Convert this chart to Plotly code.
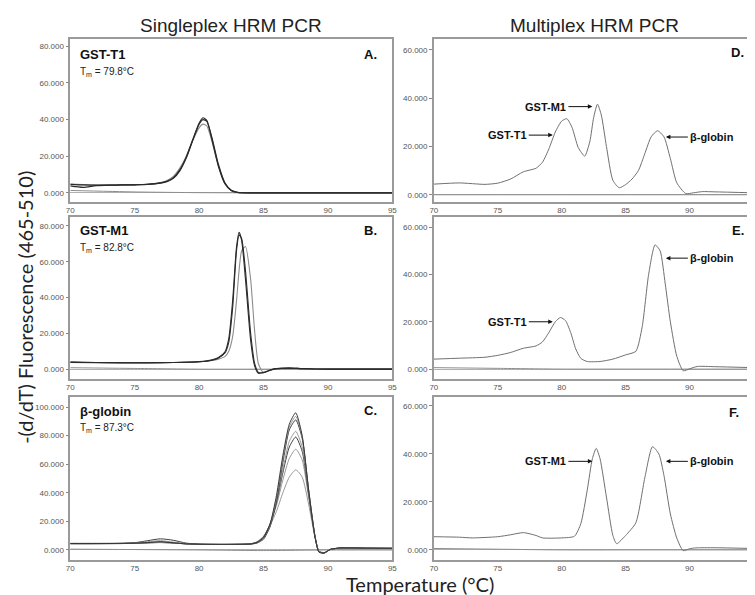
import plotly.graph_objects as go

# The page body adds an 8 px margin; the figure is sized to fill the rest of the window.
OFF = 8
W, H = 755 - OFF, 595 - OFF

# ---------------- data ----------------
x_ticks = [70, 75, 80, 85, 90, 95]
y_ticks_80 = [0, 20000, 40000, 60000, 80000]
y_ticks_80_text = ["0.000", "20.000", "40.000", "60.000", "80.000"]
y_ticks_100 = [0, 20000, 40000, 60000, 80000, 100000]
y_ticks_100_text = ["0.000", "20.000", "40.000", "60.000", "80.000", "100.000"]
y_ticks_60 = [0, 20000, 40000, 60000]
y_ticks_60_text = ["0.000", "20.000", "40.000", "60.000"]

t_ntc = [70, 75, 80, 85, 90, 95]

# Panel A: GST-T1 singleplex
tA = [70, 71, 72, 73, 74, 75, 76, 77, 77.5, 78, 78.5, 79, 79.5, 80, 80.3, 80.6, 81, 81.5, 82, 82.5, 83, 84, 86, 88, 90, 92, 95]
a1 = [4600, 4300, 4200, 4200, 4300, 4400, 4700, 5400, 6300, 8200, 12500, 19500, 29000, 38000, 41000, 39500, 29000, 14500, 5000, 1200, 200, 0, 0, 0, 0, 0, 0]
a2 = [3800, 3000, 3900, 4200, 4300, 4400, 4600, 5300, 6100, 7900, 12000, 19000, 28500, 37500, 40000, 39000, 30000, 15500, 5500, 1400, 300, 0, 0, 0, 0, 0, 0]
a3 = [4800, 4500, 4300, 4300, 4300, 4400, 4700, 5600, 6800, 9000, 13500, 20000, 28500, 35500, 37500, 36500, 28000, 14500, 5200, 1300, 200, 0, 0, 0, 0, 0, 0]
ntcA = [1300, 500, 100, 0, 0, 0]

# Panel B: GST-M1 singleplex
tB = [70, 72, 74, 76, 78, 80, 81, 81.5, 82, 82.3, 82.6, 82.9, 83.1, 83.3, 83.6, 84, 84.3, 84.6, 85, 85.5, 86, 87, 88, 90, 95]
b1 = [3900, 3700, 3600, 3600, 3700, 4200, 5200, 6500, 9500, 17000, 38000, 68000, 76500, 72000, 50000, 16000, 2000, -2300, -1800, -500, 300, 600, 300, 0, 0]
b2 = [3800, 3600, 3500, 3500, 3700, 4100, 5000, 6200, 9000, 15000, 34000, 66000, 75000, 73000, 55000, 20000, 3500, -1800, -2000, -600, 300, 600, 300, 0, 0]
b3 = [3900, 3700, 3600, 3600, 3700, 4100, 4800, 5600, 7000, 10000, 18000, 38000, 55000, 66000, 68500, 50000, 22000, 3000, -2000, -800, 200, 600, 300, 0, 0]
ntcB = [800, 400, 0, 0, 0, 0]

# Panel C: beta-globin singleplex
tC = [70, 72, 74, 75, 76, 77, 78, 79, 80, 82, 84, 84.5, 85, 85.5, 86, 86.5, 87, 87.5, 88, 88.5, 89, 89.3, 89.7, 90.2, 91, 93, 95]
c1 = [4500, 4500, 4600, 4800, 5200, 5800, 5000, 4300, 4000, 3900, 4200, 5200, 8500, 18000, 38000, 66000, 88000, 96000, 80000, 42000, 9000, -1500, -2200, 500, 1500, 1300, 1200]
c2 = [4300, 4400, 4600, 5000, 5800, 6500, 5500, 4400, 4000, 3900, 4200, 5000, 8000, 17000, 36000, 64000, 86000, 93500, 79000, 42000, 9500, -1300, -2200, 400, 1500, 1300, 1200]
c3 = [4600, 4600, 4700, 5100, 6500, 7800, 6800, 4800, 4100, 3900, 4100, 4900, 7500, 16000, 34000, 61000, 84000, 91000, 78000, 42000, 9500, -1200, -2100, 400, 1400, 1300, 1200]
c4 = [4500, 4500, 4600, 4800, 5000, 5200, 4800, 4300, 4000, 3900, 4200, 5300, 8500, 17000, 33000, 56000, 76000, 83000, 72000, 40000, 9000, -1200, -2100, 400, 1400, 1200, 1100]
c5 = [4400, 4400, 4500, 4700, 5100, 5600, 5000, 4300, 4000, 3900, 4300, 5500, 9000, 18000, 33000, 54000, 72000, 79000, 69000, 39000, 9000, -1000, -2000, 400, 1400, 1200, 1100]
c6 = [4500, 4500, 4500, 4700, 4900, 5200, 4800, 4300, 4000, 3900, 4300, 5600, 9500, 18000, 31000, 49000, 64000, 70500, 63000, 37000, 9000, -900, -1900, 400, 1300, 1200, 1100]
c7 = [4600, 4600, 4600, 4800, 5000, 5300, 4900, 4300, 4000, 3900, 4400, 5800, 9500, 17000, 27000, 40000, 51000, 56000, 51000, 32000, 8500, -800, -1800, 400, 1300, 1200, 1100]
ntcC = [600, 300, 0, -400, 0, 0]

# Panel D: multiplex GST-T1 + GST-M1 + beta-globin
tD = [70, 72, 74, 75, 76, 77, 78, 78.5, 79, 79.5, 80, 80.4, 80.8, 81.3, 81.8, 82.2, 82.5, 82.8, 83.1, 83.5, 84, 84.5, 85, 85.5, 86, 86.5, 87, 87.5, 88, 88.5, 89, 89.7, 90.3, 91, 92, 95]
d1 = [4400, 4900, 4300, 4800, 6500, 9500, 11000, 13500, 19000, 26000, 30500, 31500, 28000, 19500, 16000, 22000, 32000, 37500, 33000, 20000, 6000, 2900, 4200, 6500, 10000, 17000, 24000, 26500, 24000, 15000, 5000, 500, 800, 1300, 1200, 800]
ntcD = [0, 0, 0, 0, 0, 0]

# Panel E: multiplex GST-T1 + beta-globin
tE = [70, 72, 74, 75, 76, 77, 78, 78.5, 79, 79.5, 79.9, 80.3, 80.7, 81.1, 81.5, 82, 83, 84, 85, 85.8, 86.3, 86.8, 87.3, 87.7, 88.1, 88.5, 89, 89.5, 90, 90.6, 92, 95]
e1 = [4200, 4600, 5000, 5800, 7000, 8800, 9800, 11500, 15500, 20000, 21800, 20500, 15500, 8500, 4500, 3200, 3200, 4200, 6000, 7500, 18000, 40000, 52500, 50000, 36000, 20000, 5500, -700, 100, 1100, 1000, 600]
ntcE = [600, 300, 0, 0, 0, 0]

# Panel F: multiplex GST-M1 + beta-globin
tF = [70, 72, 73, 75, 76, 77, 78, 78.5, 80, 81, 81.5, 82, 82.4, 82.7, 83, 83.5, 84, 84.3, 85, 85.8, 86.5, 87.1, 87.6, 88, 88.5, 89, 89.5, 90, 90.5, 92, 95]
f1 = [5500, 5300, 5000, 5500, 6300, 7200, 6000, 5000, 5000, 5700, 11000, 25000, 38000, 42300, 38000, 22000, 6100, 2600, 6000, 11300, 30000, 43000, 40000, 31000, 15000, 5000, -300, 500, 850, 900, 600]
ntcF = [600, 300, 0, 0, 0, 0]

# ---------------- layout helpers ----------------
def px(x):
    return (x - OFF) / W

def py(y):
    return 1 - (y - OFF) / H

DARK = "#2a2a2a"
GRAY = "#8c8c8c"
MID = "#707070"
FRAME = "#9a9a9a"

fig = go.Figure()

def add(ax, t, v, color, width=1.0):
    fig.add_trace(go.Scatter(
        x=t, y=v, mode="lines", xaxis="x" + ax, yaxis="y" + ax,
        line=dict(color=color, width=width, shape="spline", smoothing=0.6),
        showlegend=False, hoverinfo="skip"))

# A
add("", t_ntc, ntcA, GRAY, 1)
add("", tA, a3, GRAY, 1.1)
add("", tA, a2, DARK, 1.2)
add("", tA, a1, DARK, 1.2)
# B
add("2", t_ntc, ntcB, GRAY, 1)
add("2", tB, b3, GRAY, 1.1)
add("2", tB, b2, DARK, 1.1)
add("2", tB, b1, DARK, 1.1)
# C
add("3", t_ntc, ntcC, GRAY, 1)
for series, col in [(c7, GRAY), (c6, GRAY), (c5, DARK), (c4, GRAY), (c3, DARK), (c2, GRAY), (c1, DARK)]:
    add("3", tC, series, col, 0.9)
# D, E, F
add("4", t_ntc, ntcD, GRAY, 1)
add("4", tD, d1, MID, 1.0)
add("5", t_ntc, ntcE, GRAY, 1)
add("5", tE, e1, MID, 1.0)
add("6", t_ntc, ntcF, GRAY, 1)
add("6", tF, f1, MID, 1.0)

tickfont = dict(family="Liberation Sans, Arial, sans-serif", size=8, color="#555")

left_dom = [px(67), px(393)]
right_dom = [px(435), 1.0]
rows = {
    0: [py(202), py(39)],
    1: [py(379), py(217)],
    2: [py(560), py(397)],
}

def xaxis(dom, rng, anchor):
    return dict(domain=dom, range=rng, anchor=anchor, tickvals=x_ticks,
                ticktext=[str(v) for v in x_ticks], ticks="", tickfont=tickfont,
                showgrid=False, zeroline=False, showline=True, linecolor=FRAME,
                linewidth=1.5, mirror=True)

def yaxis(dom, rng, anchor, tv, tt, right=False):
    return dict(domain=dom, range=rng, anchor=anchor, tickvals=tv, ticktext=tt,
                ticks="outside", ticklen=3, tickcolor="#888", tickwidth=1,
                tickfont=tickfont, showgrid=False, zeroline=True,
                zerolinecolor="#b0b0b0", zerolinewidth=1, showline=True,
                linecolor=FRAME, linewidth=1.5, mirror=(not right))

fig.update_layout(
    width=W, height=H, margin=dict(l=0, r=0, t=0, b=0),
    paper_bgcolor="white", plot_bgcolor="white",
    xaxis=xaxis(left_dom, [70, 95], "y"),
    yaxis=yaxis(rows[0], [-5000, 84000], "x", y_ticks_80, y_ticks_80_text),
    xaxis2=xaxis(left_dom, [70, 95], "y2"),
    yaxis2=yaxis(rows[1], [-5500, 85000], "x2", y_ticks_80, y_ticks_80_text),
    xaxis3=xaxis(left_dom, [70, 95], "y3"),
    yaxis3=yaxis(rows[2], [-7000, 107000], "x3", y_ticks_100, y_ticks_100_text),
    xaxis4=xaxis(right_dom, [70, 94.73], "y4"),
    yaxis4=yaxis(rows[0], [-3000, 64500], "x4", y_ticks_60, y_ticks_60_text, True),
    xaxis5=xaxis(right_dom, [70, 94.73], "y5"),
    yaxis5=yaxis(rows[1], [-4200, 64300], "x5", y_ticks_60, y_ticks_60_text, True),
    xaxis6=xaxis(right_dom, [70, 94.73], "y6"),
    yaxis6=yaxis(rows[2], [-4200, 63700], "x6", y_ticks_60, y_ticks_60_text, True),
)

ARIAL = "Liberation Sans, Arial, sans-serif"
ann = []

def text(x, y, s, size, bold=False, xanchor="left", font=ARIAL, color="#111", angle=0):
    ann.append(dict(x=px(x), y=py(y), xref="paper", yref="paper", text=s,
                    showarrow=False, xanchor=xanchor, yanchor="middle",
                    textangle=angle,
                    font=dict(family=font, size=size, color=color,
                              weight="bold" if bold else "normal")))

# column titles
text(230, 25, "Singleplex HRM PCR", 19, xanchor="center", color="#222")
text(598, 25, "Multiplex HRM PCR", 19, xanchor="center", color="#222")
# axis titles
text(21, 307, "-(d/dT) Fluorescence (465-510)", 20, xanchor="center",
     font="Lato, Open Sans, sans-serif", color="#222", angle=-90)
text(421, 584, "Temperature (°C)", 20, xanchor="center",
     font="Lato, Open Sans, sans-serif", color="#222")

# gene labels / Tm
text(75, 54, "GST-T1", 13, bold=True)
text(75, 72, "T<sub>m</sub> = 79.8°C", 10, color="#222")
text(75, 231, "GST-M1", 13, bold=True)
text(75, 248, "T<sub>m</sub> = 82.8°C", 10, color="#222")
text(75, 411, "β-globin", 13, bold=True)
text(75, 428, "T<sub>m</sub> = 87.3°C", 10, color="#222")

# panel letters
text(379, 54, "A.", 13, bold=True, xanchor="right")
text(379, 231, "B.", 13, bold=True, xanchor="right")
text(379, 410, "C.", 13, bold=True, xanchor="right")
text(751, 53, "D.", 13, bold=True, xanchor="right")
text(751, 230, "E.", 13, bold=True, xanchor="right")
text(746, 412, "F.", 13, bold=True, xanchor="right")

# arrow labels
def arrow(axn, x, y, s, direction):
    ann.append(dict(x=x, y=y, xref="x" + axn, yref="y" + axn, text="<b>" + s + "</b>",
                    showarrow=True, arrowhead=2, arrowsize=0.9, arrowwidth=1,
                    arrowcolor="#111",
                    ax=(-24 if direction == "right" else 22), ay=0,
                    xanchor=("right" if direction == "right" else "left"),
                    yanchor="middle",
                    font=dict(family=ARIAL, size=11, color="#111")))

arrow("4", 79.3, 24700, "GST-T1", "right")
arrow("4", 82.4, 36500, "GST-M1", "right")
arrow("4", 88.15, 23900, "β-globin", "left")
arrow("5", 79.3, 20000, "GST-T1", "right")
arrow("5", 88.15, 46900, "β-globin", "left")
arrow("6", 82.4, 36900, "GST-M1", "right")
arrow("6", 88.15, 36900, "β-globin", "left")

fig.update_layout(annotations=ann)
fig.write_html("out.html")
